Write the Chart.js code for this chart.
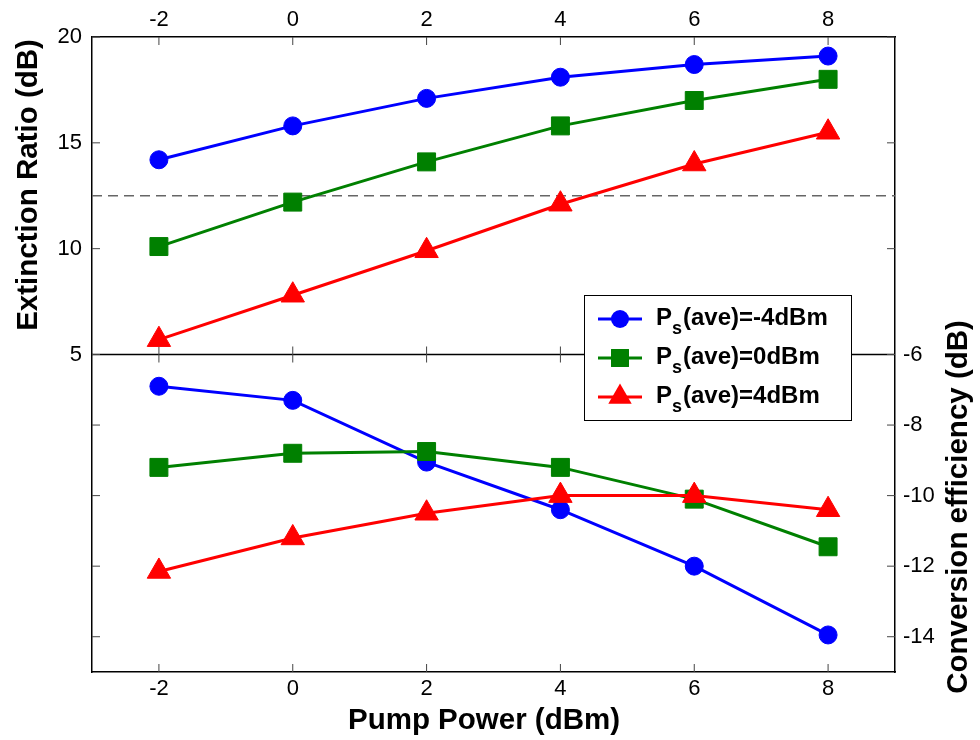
<!DOCTYPE html>
<html>
<head>
<meta charset="utf-8">
<title>Extinction ratio and conversion efficiency vs pump power</title>
<script src="https://cdn.jsdelivr.net/npm/chart.js@4.4.1/dist/chart.umd.min.js"></script>
<style>
    html, body { margin: 0; padding: 0; background: #fff; }
    #wrap { width: 980px; height: 740px; position: relative; }
</style>
</head>
<body>
<div id="wrap"><canvas id="chart"></canvas></div>
<script>
// --- Data ---
const pumpPower = [-2, 0, 2, 4, 6, 8];
const xTicks = [-2, 0, 2, 4, 6, 8];
const xRange = [-3, 9];

// upper panel: extinction ratio (dB), left axis
const erNeg4 = [14.2, 15.8, 17.1, 18.1, 18.7, 19.1];
const er0 = [10.1, 12.2, 14.1, 15.8, 17.0, 18.0];
const er4 = [5.7, 7.8, 9.9, 12.1, 14.0, 15.5];
const erTicks = [5, 10, 15, 20];
const erThreshold = 12.5;

// lower panel: conversion efficiency (dB), right axis
const ceNeg4 = [-6.9, -7.3, -9.05, -10.4, -12.0, -13.95];
const ce0 = [-9.2, -8.8, -8.75, -9.2, -10.1, -11.45];
const ce4 = [-12.15, -11.2, -10.5, -10.0, -10.0, -10.4];
const ceTicks = [-6, -8, -10, -12, -14];

const seriesLabels = ['(ave)=-4dBm', '(ave)=0dBm', '(ave)=4dBm'];

// --- Styles ---
const FONT = '"Liberation Sans", Arial, sans-serif';
const styles = [
    { color: '#0000ff', marker: 'circle', radius: 9 },
    { color: '#008000', marker: 'rect', radius: 12.7 },
    { color: '#ff0000', marker: 'triangle', radius: 13.5 }
];

const toPoints = ys => ys.map((y, i) => ({ x: pumpPower[i], y }));

function series(ys, k, axis) {
    const s = styles[k];
    return {
        data: toPoints(ys),
        yAxisID: axis,
        order: 3 - k, // red on top, blue at the bottom
        borderColor: s.color,
        backgroundColor: s.color,
        borderWidth: 3,
        pointStyle: s.marker,
        pointRadius: s.radius,
        pointHoverRadius: s.radius,
        pointBorderWidth: 1
    };
}

const datasets = [
    series(erNeg4, 0, 'yL'), series(er0, 1, 'yL'), series(er4, 2, 'yL'),
    series(ceNeg4, 0, 'yR'), series(ce0, 1, 'yR'), series(ce4, 2, 'yR'),
    {
        data: [{ x: xRange[0], y: erThreshold }, { x: xRange[1], y: erThreshold }],
        yAxisID: 'yL',
        order: 10,
        borderColor: '#666',
        borderWidth: 1.5,
        borderDash: [10, 6],
        pointRadius: 0
    }
];

const tickFont = { family: FONT, size: 22 };
const fixedTicks = list => scale => { scale.ticks = list.map(v => ({ value: v })); };
const border = { display: true, color: '#000', width: 1.5 };

function line(ctx, x1, y1, x2, y2) {
    ctx.beginPath();
    ctx.moveTo(x1, y1);
    ctx.lineTo(x2, y2);
    ctx.stroke();
}

function drawMarker(ctx, style, x, y) {
    const r = style.radius;
    ctx.fillStyle = style.color;
    ctx.beginPath();
    if (style.marker === 'circle') {
        ctx.arc(x, y, r, 0, Math.PI * 2);
    } else if (style.marker === 'rect') {
        const h = r * Math.SQRT1_2;
        ctx.rect(x - h, y - h, 2 * h, 2 * h);
    } else {
        for (let i = 0; i < 3; i++) {
            const a = i * 2 * Math.PI / 3;
            ctx.lineTo(x + Math.sin(a) * r, y - Math.cos(a) * r);
        }
        ctx.closePath();
    }
    ctx.fill();
}

// frame details MATLAB-style: middle divider, inward ticks, titles, legend
const frameExtras = {
    id: 'frameExtras',
    beforeDatasetsDraw(chart) {
        const { ctx, chartArea: a, scales } = chart;
        const midY = scales.yL.getPixelForValue(erTicks[0]);
        ctx.save();
        ctx.strokeStyle = '#000';
        ctx.lineWidth = 1.5;
        line(ctx, a.left, midY, a.right, midY);

        ctx.strokeStyle = '#444';
        ctx.lineWidth = 1;
        const len = 8;
        xTicks.forEach(v => {
            const px = scales.x.getPixelForValue(v);
            line(ctx, px, a.bottom, px, a.bottom - len);
            line(ctx, px, a.top, px, a.top + len);
            line(ctx, px, midY - len, px, midY + len);
        });
        erTicks.forEach(v => {
            const py = scales.yL.getPixelForValue(v);
            line(ctx, a.left, py, a.left + len, py);
            line(ctx, a.right, py, a.right - len, py);
        });
        ceTicks.forEach(v => {
            const py = scales.yR.getPixelForValue(v);
            line(ctx, a.left, py, a.left + len, py);
            line(ctx, a.right, py, a.right - len, py);
        });
        ctx.restore();
    },
    afterDraw(chart) {
        const { ctx } = chart;
        ctx.save();
        ctx.fillStyle = '#000';
        ctx.font = `bold 29.5px ${FONT}`;
        ctx.textAlign = 'center';
        ctx.textBaseline = 'middle';

        ctx.fillText('Pump Power (dBm)', 484, 721);

        ctx.save();
        ctx.translate(29, 185);
        ctx.rotate(-Math.PI / 2);
        ctx.fillText('Extinction Ratio (dB)', 0, 0);
        ctx.restore();

        ctx.save();
        ctx.translate(959, 507);
        ctx.rotate(-Math.PI / 2);
        ctx.fillText('Conversion efficiency (dB)', 0, 0);
        ctx.restore();

        // legend box
        const box = { x: 584, y: 295, w: 267, h: 125 };
        ctx.fillStyle = '#fff';
        ctx.fillRect(box.x, box.y, box.w, box.h);
        ctx.strokeStyle = '#000';
        ctx.lineWidth = 1;
        ctx.strokeRect(box.x + 0.5, box.y + 0.5, box.w, box.h);

        ctx.textAlign = 'left';
        ctx.textBaseline = 'alphabetic';
        seriesLabels.forEach((label, i) => {
            const s = styles[i];
            const rowY = box.y + 24 + i * 39;
            ctx.strokeStyle = s.color;
            ctx.lineWidth = 3;
            line(ctx, 598, rowY, 642, rowY);
            drawMarker(ctx, s, 620, rowY);

            ctx.fillStyle = '#000';
            let tx = 656;
            ctx.font = `bold 24px ${FONT}`;
            ctx.fillText('P', tx, rowY + 6);
            tx += ctx.measureText('P').width;
            ctx.font = `bold 18px ${FONT}`;
            ctx.fillText('s', tx, rowY + 15);
            tx += ctx.measureText('s').width + 1;
            ctx.font = `bold 24px ${FONT}`;
            ctx.fillText(label, tx, rowY + 6);
        });
        ctx.restore();
    }
};

new Chart(document.getElementById('chart'), {
    type: 'line',
    data: { datasets },
    plugins: [frameExtras],
    options: {
        responsive: true,
        maintainAspectRatio: false,
        animation: false,
        events: [],
        layout: { padding: 0 },
        plugins: { legend: { display: false }, tooltip: { enabled: false } },
        scales: {
            x: {
                type: 'linear', position: 'bottom',
                min: xRange[0], max: xRange[1],
                afterBuildTicks: fixedTicks(xTicks),
                afterFit: s => { s.height = 68; },
                grid: { display: false, drawTicks: false },
                border,
                ticks: { font: tickFont, color: '#000', padding: 4, maxRotation: 0 }
            },
            x2: {
                type: 'linear', position: 'top',
                min: xRange[0], max: xRange[1],
                afterBuildTicks: fixedTicks(xTicks),
                afterFit: s => { s.height = 37; },
                grid: { display: false, drawTicks: false },
                border,
                ticks: { font: tickFont, color: '#000', padding: 4, maxRotation: 0 }
            },
            yL: {
                type: 'linear', position: 'left',
                min: -10, max: 20,
                afterBuildTicks: fixedTicks(erTicks),
                afterFit: s => { s.width = 92; },
                grid: { display: false, drawTicks: false },
                border,
                ticks: { font: tickFont, color: '#000', padding: 10 }
            },
            yR: {
                type: 'linear', position: 'right',
                min: -15, max: 3,
                afterBuildTicks: fixedTicks(ceTicks),
                afterFit: s => { s.width = 85; },
                grid: { display: false, drawTicks: false },
                border,
                ticks: { font: tickFont, color: '#000', padding: 8 }
            }
        }
    }
});
</script>
</body>
</html>
